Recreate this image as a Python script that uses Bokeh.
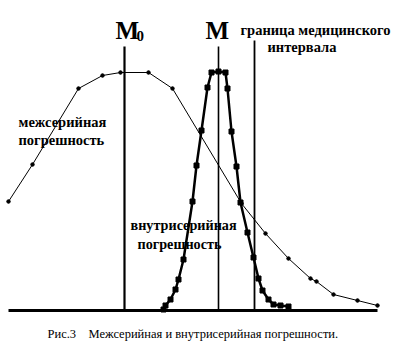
from bokeh.plotting import figure
from bokeh.models import Label, Range1d
from bokeh.embed import file_html
from bokeh.resources import INLINE

# Broad (inter-series) error curve
broad_x = [0, 24, 70, 94, 112, 140, 164, 233, 257, 280, 302, 308, 325, 349, 369]
broad_y = [109, 146, 222, 235, 238, 238, 222, 107, 77, 52, 32, 29, 16, 10, 5]

# Narrow (intra-series) error curve
narrow_x = [155, 157, 162, 167, 170, 175, 184, 188, 193, 199, 203, 210, 217,
            219, 223, 228, 232, 239, 245, 250, 254, 260, 265, 272, 280]
narrow_y = [1, 5, 11, 21, 31, 51, 109, 145, 180, 223, 238, 239, 238,
            222, 179, 144, 108, 78, 53, 32, 20, 11, 6, 5, 4]

# Vertical reference lines: M0, M, medical interval boundary
vline_x = [116, 210, 246]
vline_top = [264, 264, 270]
vline_w = [2.2, 1.6, 1.8]

# Baseline extent
base_x = [0, 369]
base_y = [0, 0]

p = figure(width=416, height=360, output_backend="svg", toolbar_location=None,
           x_range=Range1d(-8, 408), y_range=Range1d(-50, 310),
           min_border=0, min_border_left=0, min_border_right=0,
           min_border_top=0, min_border_bottom=0)
p.axis.visible = False
p.grid.visible = False
p.outline_line_color = None
p.background_fill_color = "white"
p.border_fill_color = "white"

# baseline
p.line(base_x, base_y, line_color="black", line_width=3)

# vertical lines
for xv, top, w in zip(vline_x, vline_top, vline_w):
    p.line([xv, xv], [0, top], line_color="black", line_width=w)

# broad curve
p.line(broad_x, broad_y, line_color="black", line_width=1)
p.scatter(broad_x, broad_y, marker="circle", size=3.5, color="black")

# narrow curve
p.line(narrow_x, narrow_y, line_color="black", line_width=2.5)
p.scatter(narrow_x, narrow_y, marker="square", size=5, color="black")

serif = "'Liberation Serif', 'Times New Roman', serif"

def lab(text, x, y, size, bold=True):
    p.add_layout(Label(x=x, y=y, text=text, text_font=serif,
                       text_font_size=f"{size}px",
                       text_font_style="bold" if bold else "normal",
                       text_color="black", text_baseline="alphabetic",
                       text_align="left"))

lab("M", 107, 280, 25)
lab("0", 128, 275, 15)
lab("M", 197, 280, 25)
lab("граница медицинского", 232, 281, 14.5)
lab("интервала", 259, 264, 14.5)
lab("межсерийная", 10, 189, 14.5)
lab("погрешность", 10, 171, 14.5)
lab("внутрисерийная", 122, 86, 14.2)
lab("погрешность", 129, 67, 14.2)
lab("Рис.3", 39, -23, 12.5, bold=False)
lab("Межсерийная и внутрисерийная погрешности.", 80, -23, 12.5, bold=False)

open("out.html", "w").write(file_html(p, INLINE))
